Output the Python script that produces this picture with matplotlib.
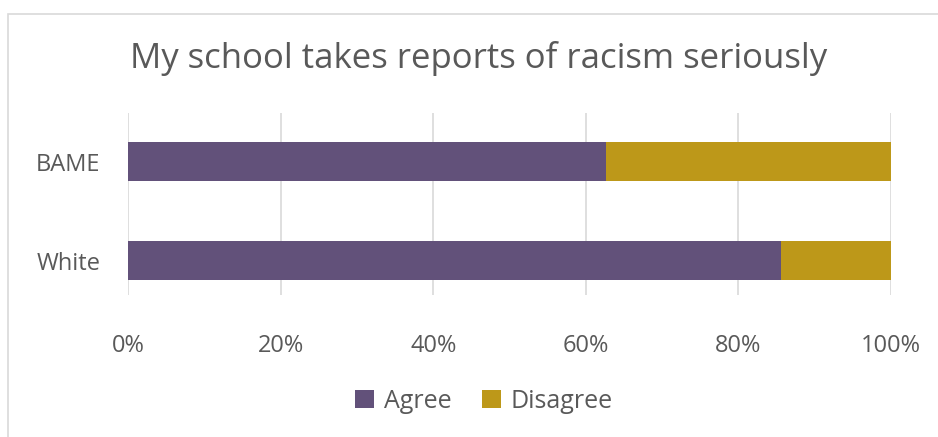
import matplotlib.pyplot as plt
from matplotlib.patches import Rectangle
from matplotlib.ticker import FuncFormatter

groups = ['White', 'BAME']
agree = [85.6, 62.7]
disagree = [14.4, 37.3]

purple = '#62517A'
gold = '#BD9819'
grey_text = '#595959'

plt.rcParams['font.family'] = ['Open Sans', 'DejaVu Sans']

fig = plt.figure(figsize=(9.38, 4.37), dpi=100)
fig.patches.append(Rectangle((8/938, -0.1), 1.1, 1 - 14/437 + 0.1,
                             transform=fig.transFigure, fill=False,
                             edgecolor='#D9D9D9', linewidth=1.2))

ax = fig.add_axes([128/938, 1 - 295/437, (891-128)/938, (295-113)/437])
y = range(len(groups))
ax.barh(y, agree, height=0.39, color=purple, label='Agree')
ax.barh(y, disagree, left=agree, height=0.39, color=gold, label='Disagree')

ax.set_xlim(0, 100)
ax.set_ylim(-0.348, 1.49)
ax.set_xticks([0, 20, 40, 60, 80, 100])
ax.xaxis.set_major_formatter(FuncFormatter(lambda v, p: f'{v:.0f}%'))
ax.set_yticks(list(y))
ax.set_yticklabels(groups)
ax.grid(axis='x', color='#D9D9D9', linewidth=1.2)
ax.set_axisbelow(True)
for s in ax.spines.values():
    s.set_visible(False)
ax.tick_params(length=0, labelsize=17, colors=grey_text)
ax.tick_params(axis='x', pad=28)
ax.tick_params(axis='y', pad=20)

fig.text(479/938, 1 - 58/437, 'My school takes reports of racism seriously',
         ha='center', va='center', fontsize=25, color=grey_text)

fig.legend(loc='center', bbox_to_anchor=(484/938, 1 - 401/437), ncol=2,
           frameon=False, fontsize=18, labelcolor=grey_text,
           handlelength=0.75, handleheight=0.75, handletextpad=0.4,
           columnspacing=1.2)

fig.savefig('out.png', dpi=100)
